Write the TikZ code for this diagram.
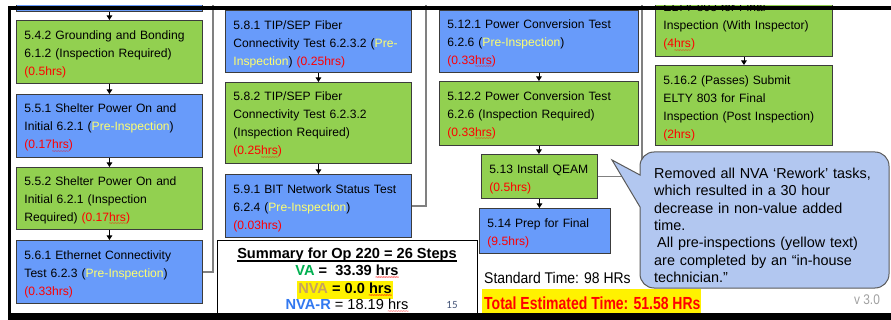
\documentclass[tikz,border=0pt]{standalone}
\usepackage{fontspec}
\setmainfont{Liberation Sans}
\newfontfamily\calibfont{Carlito}
\usetikzlibrary{arrows.meta}
\definecolor{boxgreen}{RGB}{146,208,80}
\definecolor{boxblue}{RGB}{104,155,250}
\definecolor{boxedge}{RGB}{60,60,60}
\definecolor{preyel}{RGB}{255,255,110}
\definecolor{hrsred}{RGB}{255,0,0}
\definecolor{bubblefill}{RGB}{178,199,240}
\definecolor{bubbleedge}{RGB}{90,90,90}
\definecolor{vagreen}{RGB}{0,176,80}
\definecolor{nvagold}{RGB}{198,162,96}
\definecolor{nvarblue}{RGB}{50,120,240}
\definecolor{pagenum}{RGB}{68,84,120}
\definecolor{lnkgray}{RGB}{128,128,128}
\definecolor{vergray}{RGB}{160,160,160}
\newsavebox\sqbox
\newcommand\sq[1]{\sbox\sqbox{#1}\rlap{\textcolor{red}{\lower4.2pt\hbox to\wd\sqbox{\xleaders\hbox{\kern-0.55pt\fontsize{6}{6}\selectfont\symbol{126}\kern-0.55pt}\hfill}}}\usebox\sqbox}
\newcommand\pre[1]{\textcolor{preyel}{#1}}
\newcommand\hr[1]{\textcolor{hrsred}{#1}}
\tikzset{
  taskbox/.style={draw=boxedge, line width=0.9pt, anchor=north west, align=left,
    inner xsep=8pt, inner ysep=0pt, font=\fontsize{12.1}{18}\selectfont, text=black,
    execute at begin node={\rule{0pt}{14pt}}},
  gbox/.style={taskbox, fill=boxgreen},
  bbox/.style={taskbox, fill=boxblue},
  flow/.style={line width=0.9pt, draw=black, -{Triangle[length=4.5pt,width=5.5pt]}},
  link/.style={draw=lnkgray, line width=1.5pt},
  sumtext/.style={inner sep=0pt, font=\bfseries\fontsize{14.6}{16}\selectfont},
}
\begin{document}
\begin{tikzpicture}[x=1pt,y=-1pt]
\useasboundingbox (0,0) rectangle (891,320);
\begin{scope}
\clip (0,6) rectangle (891,320);
% link lines between columns
\coordinate (top1) at (213,0);
\coordinate (top2) at (426,0);
\coordinate (top3) at (642,0);
% left column
\node[bbox, text width=170pt, minimum width=186pt, minimum height=31pt] (b540) at (16,-20) {};
\node[gbox, text width=170pt, minimum width=186pt, minimum height=63pt] (b542) at (16,20)
  {5.4.2 Grounding and Bonding\\6.1.2 (Inspection Required)\\\hr{(0.5hrs)}};
\node[bbox, text width=170pt, minimum width=186pt, minimum height=63pt] (b551) at (16,94)
  {5.5.1 Shelter Power On and\\Initial 6.2.1 (\pre{Pre-Inspection})\\\hr{(0.17\sq{hrs})}};
\node[gbox, text width=170pt, minimum width=186pt, minimum height=62pt] (b552) at (16,167)
  {5.5.2 Shelter Power On and\\Initial 6.2.1 (Inspection\\Required) \hr{(0.17\sq{hrs})}};
\node[bbox, text width=170pt, minimum width=186pt, minimum height=63pt] (b561) at (16,240)
  {5.6.1 Ethernet Connectivity\\Test 6.2.3 (\pre{Pre-Inspection})\\\hr{(0.33hrs)}};
% middle column
\node[bbox, text width=170pt, minimum width=186pt, minimum height=62pt] (b581) at (225,10)
  {5.8.1 TIP/SEP Fiber\\Connectivity Test 6.2.3.2 (\pre{Pre-}\\\pre{Inspection}) \hr{(0.25hrs)}};
\node[gbox, text width=170pt, minimum width=186pt, minimum height=81pt] (b582) at (225,82)
  {5.8.2 TIP/SEP Fiber\\Connectivity Test 6.2.3.2\\(Inspection Required)\\\hr{(0.25\sq{hrs})}};
\node[bbox, text width=170pt, minimum width=186pt, minimum height=63pt] (b591) at (225,174)
  {5.9.1 BIT Network Status Test\\6.2.4 (\pre{Pre-Inspection})\\\hr{(0.03hrs)}};
% right column
\node[bbox, text width=183pt, minimum width=199pt, minimum height=62pt] (b5121) at (439,10)
  {5.12.1 Power Conversion Test\\6.2.6 (\pre{Pre-Inspection})\\\hr{(0.33\sq{hrs})}};
\node[gbox, text width=183pt, minimum width=199pt, minimum height=64pt] (b5122) at (439,81)
  {5.12.2 Power Conversion Test\\6.2.6 (Inspection Required)\\\hr{(0.33\sq{hrs})}};
\node[gbox, text width=100pt, minimum width=116pt, minimum height=44pt] (b513) at (481,154)
  {5.13 Install QEAM\\\hr{(0.5hrs)}};
\node[bbox, text width=115pt, minimum width=131pt, minimum height=45pt] (b514) at (479,208)
  {5.14 Prep for Final\\\hr{(9.5hrs)}};
% far right column
\node[gbox, text width=161pt, minimum width=177pt, minimum height=63pt] (b5161) at (655,-7)
  {ELTY 803 for Final\\Inspection (With Inspector)\\\hr{(4\sq{hrs})}};
\node[gbox, text width=161pt, minimum width=177pt, minimum height=80pt] (b5162) at (655,65)
  {5.16.2 (Passes) Submit\\ELTY 803 for Final\\Inspection (Post Inspection)\\\hr{(2hrs)}};
% flow arrows
\draw[flow] (b540.south) -- (b542.north);
\draw[flow] (b542.south) -- (b551.north);
\draw[flow] (b551.south) -- (b552.north);
\draw[flow] (b552.south) -- (b561.north);
\draw[flow] (b581.south) -- (b582.north);
\draw[flow] (b582.south) -- (b591.north);
\draw[flow] (b5121.south) -- (b5122.north);
\draw[flow] (b5122.south) -- (b5122.south |- b513.north);
\draw[flow] (b513.south) -- (b513.south |- b514.north);
\draw[flow] (b5161.south) -- (b5162.north);
% links
\draw[link] (b561.east) -| (top1);
\draw[link] (b591.east) -| (top2);
\draw[link] (b513.east) -| (top3);
% summary box
\node[draw=black, line width=0.8pt, fill=white, anchor=north west, minimum width=260pt, minimum height=90pt] (summ) at (217,240) {};
\node[sumtext] (sumtitle) at (347,255) {Summary for Op 220 = 26 Steps};
\draw[line width=1.2pt] ([yshift=-2.2pt]sumtitle.base west) -- ([yshift=-2.2pt]sumtitle.base east);
\node[sumtext] (va) at (347,272) {\textcolor{vagreen}{VA} =\ \ 33.39 \sq{hrs}};
\node[sumtext, fill=yellow, inner xsep=1pt, inner ysep=1.8pt] (nva) at (345,290) {\textcolor{nvagold}{NVA} = 0.0 \sq{hrs}};
\node[inner sep=0pt, font=\fontsize{14.6}{16}\selectfont] (nvar) at (347,306) {\textcolor{nvarblue}{\bfseries NVA-R} = 18.19 \sq{hrs}};
\node[inner sep=0pt, font=\calibfont\fontsize{11}{12}\selectfont, text=pagenum] (pg) at (452,305) {15};
% times
\node[anchor=west, inner sep=0pt, font=\fontsize{15.5}{16}\selectfont] (std) at (484,278) {\scalebox{0.9}[1]{Standard Time: 98 HRs}};
\fill[yellow] (482,289) rectangle (701,313);
\node[anchor=west, inner sep=0pt, font=\bfseries\fontsize{17.5}{18}\selectfont, text=red] (tot) at (484,303) {\scalebox{0.8}[1]{Total Estimated Time: 51.58 HRs}};
% callout
\draw[draw=bubbleedge, line width=1pt, fill=bubblefill] (612,160) -- (640,175) [rounded corners=14pt] -- (640,152) -- (889,152) -- (889,288) -- (640,288) -- (640,250) [sharp corners] -- (640,207) -- cycle;
\node[anchor=north west, inner sep=0pt, align=left, text width=232pt, font=\fontsize{14.4}{17.3}\selectfont] (btxt) at (654,168)
  {Removed all NVA ‘Rework’ tasks,\\which resulted in a 30 hour\\decrease in non-value added\\time.\\\hspace*{3pt}All pre-inspections (yellow text)\\are completed by an “in-house\\technician.”};
\node[text=vergray, inner sep=0pt, font=\fontsize{14}{14}\selectfont] (ver) at (867,300) {\scalebox{0.85}[1]{v 3.0}};
\end{scope}
% frame
\fill[black] (8,6) rectangle (891,10);
\fill[black] (8,6) rectangle (11,320);
\fill[black] (8,313) rectangle (891,320);
\end{tikzpicture}
\end{document}
